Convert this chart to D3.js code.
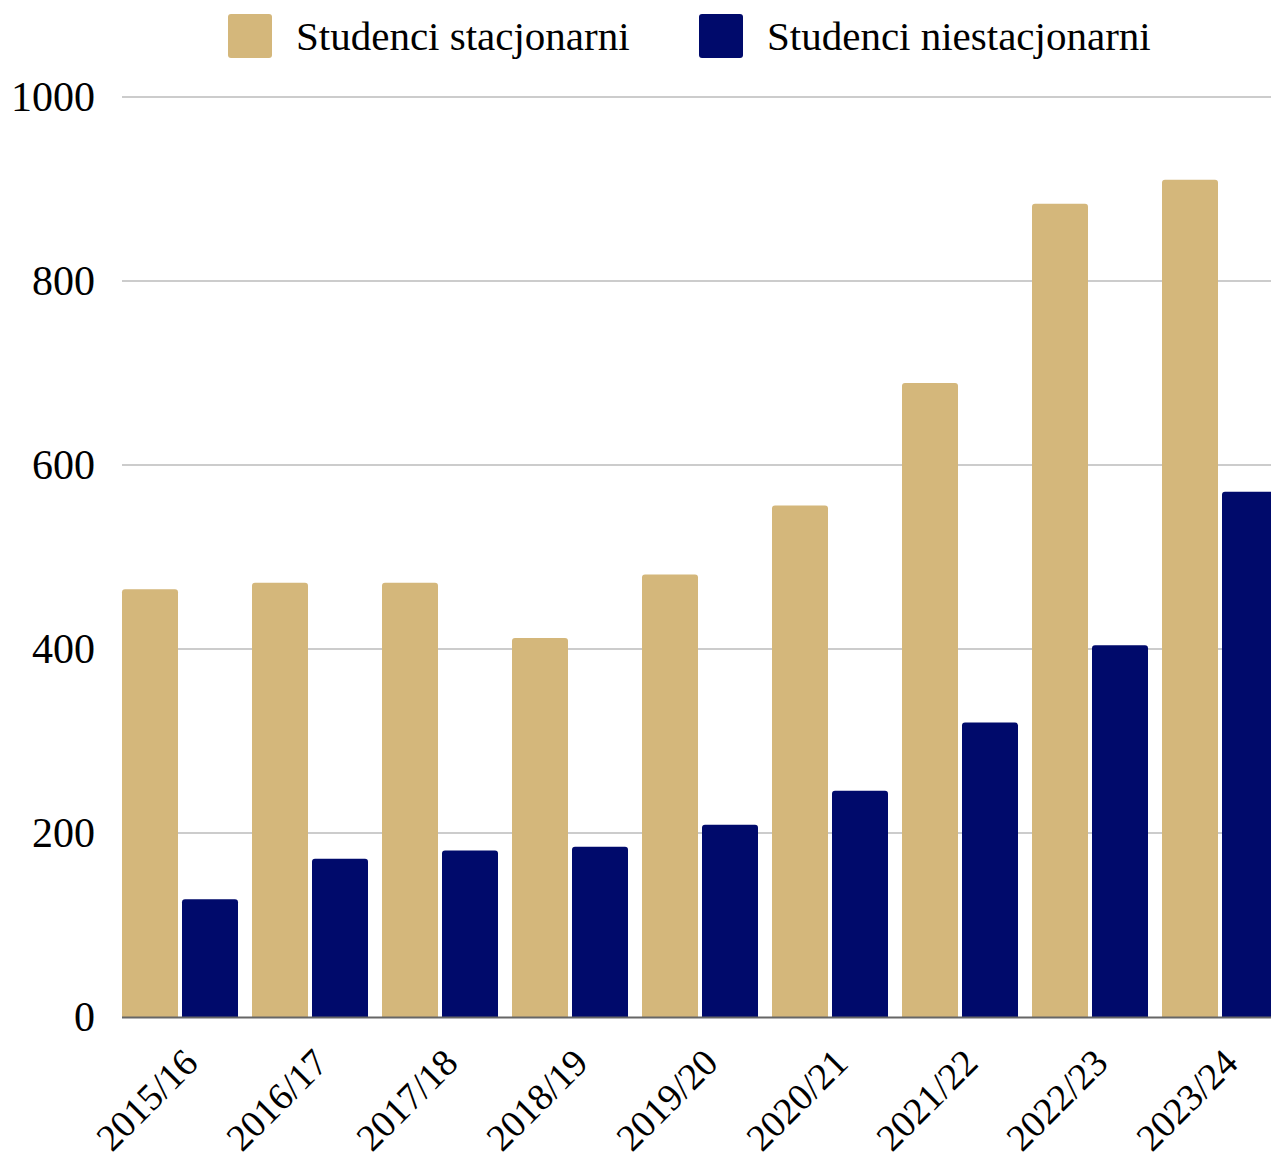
<!DOCTYPE html>
<html>
<head>
    <title>Studenci</title>
    <script src="https://d3js.org/d3.v7.min.js"></script>
    <style>
        body { margin: 0; background: white; }
        text { font-family: "Liberation Serif", "DejaVu Serif", serif; fill: #000; }
    </style>
</head>
<body>
<div id="chart"></div>
<script>
// dane
const years = ["2015/16","2016/17","2017/18","2018/19","2019/20","2020/21","2021/22","2022/23","2023/24"];
const stacjonarni = [465, 472, 472, 412, 481, 556, 689, 884, 910];
const niestacjonarni = [128, 172, 181, 185, 209, 246, 320, 404, 571];
const seriesNames = ["Studenci stacjonarni", "Studenci niestacjonarni"];
const colors = ["#d4b77b", "#000a6b"];
const yTicks = [0, 200, 400, 600, 800, 1000];

const W = 1271, H = 1166;
const svg = d3.select("#chart").append("svg")
    .attr("width", W).attr("height", H);

const y = d3.scaleLinear().domain([0, 1000]).range([1017, 97]);
const x0 = d3.scaleBand().domain(years).range([115, 1285]).padding(0);
const x1 = d3.scaleBand().domain([0, 1]).range([7, 123]).paddingInner(1 / 15);

// siatka
svg.append("g")
    .selectAll("line")
    .data(yTicks.filter(d => d > 0))
    .join("line")
    .attr("x1", 122).attr("x2", W)
    .attr("y1", d => y(d)).attr("y2", d => y(d))
    .attr("stroke", "#cccccc").attr("stroke-width", 2);

// oś Y
const yAxis = svg.append("g")
    .attr("transform", "translate(95,0)")
    .call(d3.axisLeft(y).tickValues(yTicks).tickFormat(d3.format("d")).tickSize(0).tickPadding(0));
yAxis.select(".domain").remove();
yAxis.selectAll("text")
    .attr("font-size", 42)
    .attr("font-family", "Liberation Serif")
    .attr("dy", "0.32em");

// słupki
const data = years.map((yr, i) => ({ year: yr, vals: [stacjonarni[i], niestacjonarni[i]] }));
const r = 3;
function barPath(x, w, top, bottom) {
    return `M${x},${bottom}V${top + r}Q${x},${top} ${x + r},${top}H${x + w - r}Q${x + w},${top} ${x + w},${top + r}V${bottom}Z`;
}
const groups = svg.append("g")
    .selectAll("g")
    .data(data)
    .join("g")
    .attr("transform", d => `translate(${x0(d.year)},0)`);

groups.selectAll("path")
    .data(d => d.vals.map((v, k) => ({ v, k })))
    .join("path")
    .attr("d", d => barPath(x1(d.k), x1.bandwidth(), y(d.v), y(0)))
    .attr("fill", d => colors[d.k]);

// linia bazowa
svg.append("line")
    .attr("x1", 122).attr("x2", W)
    .attr("y1", y(0) + 0.5).attr("y2", y(0) + 0.5)
    .attr("stroke", "#666").attr("stroke-width", 2);

// oś X
const xAxis = svg.append("g")
    .attr("transform", `translate(0,${y(0)})`)
    .call(d3.axisBottom(x0).tickSize(0).tickPadding(0));
xAxis.select(".domain").remove();
xAxis.selectAll("text")
    .attr("font-size", 38)
    .attr("font-family", "Liberation Serif")
    .attr("text-anchor", "end")
    .attr("dy", 0)
    .attr("transform", "translate(20,48) rotate(-45)");

// legenda
const legend = svg.append("g");
const legX = [228, 699];
seriesNames.forEach((name, i) => {
    legend.append("rect")
        .attr("x", legX[i]).attr("y", 14)
        .attr("width", 44).attr("height", 44)
        .attr("rx", 3)
        .attr("fill", colors[i]);
    legend.append("text")
        .attr("x", legX[i] + 68).attr("y", 36)
        .attr("dy", "0.35em")
        .attr("font-size", 41)
        .text(name);
});
</script>
</body>
</html>
